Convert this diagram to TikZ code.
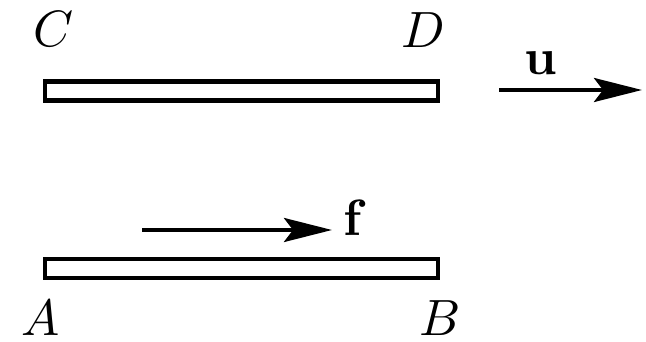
\documentclass[tikz,border=0pt]{standalone}
\usetikzlibrary{arrows.meta}
\newcommand{\bigt}[1]{\scalebox{5.1}{#1}}
\begin{document}
\begin{tikzpicture}[x=1pt,y=-1pt,
  plate/.style={draw, line width=4.5pt, inner sep=0pt, minimum width=393pt, minimum height=19pt},
  vec/.style={line width=4pt, -{Stealth[length=48pt, width=24pt, inset=9pt]}},
  lbl/.style={anchor=base, inner sep=0pt}]
\useasboundingbox (0,0) rectangle (646,342);
\node[plate] (top) at (241.5,91) {};
\node[plate] (bot) at (241.5,268.5) {};
\node[lbl] (C) at (54,47) {\bigt{$C$}};
\node[lbl] (D) at (423,48) {\bigt{$D$}};
\node[lbl] (A) at (41,335) {\bigt{$A$}};
\node[lbl] (B) at (440,335) {\bigt{$B$}};
\node[lbl] (u) at (541,75) {\bigt{$\mathbf{u}$}};
\node[lbl] (f) at (355,236) {\bigt{$\mathbf{f}$}};
\coordinate (u1) at (499,90);
\coordinate (u2) at (642,90);
\coordinate (f1) at (142,230);
\coordinate (f2) at (332,230);
\draw[vec] (u1) -- (u2);
\draw[vec] (f1) -- (f2);
\end{tikzpicture}
\end{document}
